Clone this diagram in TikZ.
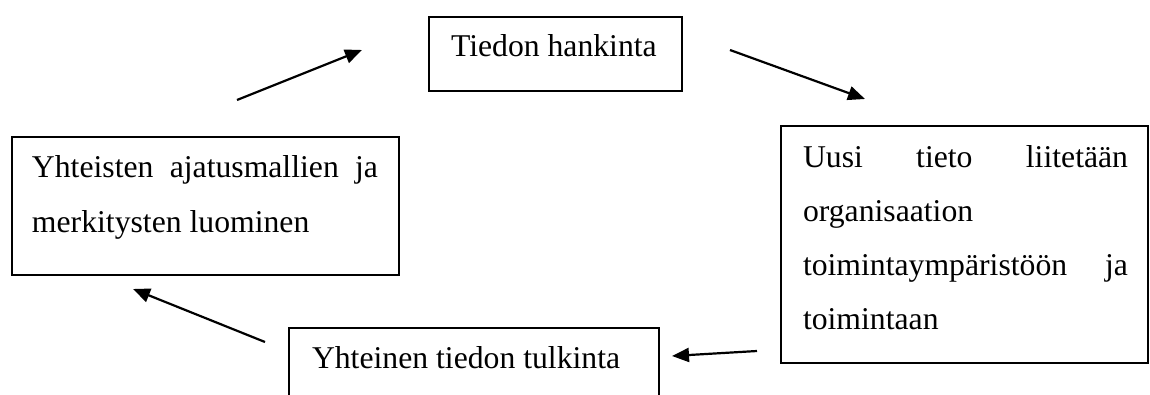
\documentclass[tikz,border=0pt]{standalone}
\usepackage{fontspec}
\setmainfont{Liberation Serif}
\usetikzlibrary{arrows.meta}
\begin{document}
\begin{tikzpicture}[x=1pt,y=-1pt,
  box/.style={draw=black, line width=1.7pt, inner sep=0pt, outer sep=0pt, anchor=north west,
              font=\fontsize{31.7pt}{54pt}\selectfont},
  flow/.style={draw=black, line width=2.2pt, -{Triangle[length=17pt,width=14pt]}}]
\useasboundingbox (0,0) rectangle (1150,395);
\clip (0,0) rectangle (1150,395);
\fill[white] (0,0) rectangle (1150,395);

% boxes
\node[box, text height=40pt, text depth=34pt] (acq) at (429,17)
  {\makebox[253pt][l]{\hspace*{22pt}Tiedon hankinta}};
\node[box, font=\fontsize{31.7pt}{55pt}\selectfont, text height=41pt, text depth=97pt] (shared) at (12,137)
  {\makebox[387pt][l]{\hspace*{20pt}\parbox[t]{346pt}{\makebox[346pt][s]{Yhteisten ajatusmallien ja}\\merkitysten luominen}}};
\node[box, text height=42pt, text depth=195pt] (newinfo) at (781,126)
  {\makebox[367pt][l]{\hspace*{22pt}\parbox[t]{325pt}{\makebox[325pt][s]{Uusi tieto liitetään}\\organisaation\\\makebox[325pt][s]{toimintaympäristöön ja}\\toimintaan}}};
\node[box, text height=40pt, text depth=100pt] (interp) at (289,328)
  {\makebox[370pt][l]{\hspace*{23pt}Yhteinen tiedon tulkinta}};

% connector end points (free-floating arrows)
\coordinate (s1) at (237,100); \coordinate (e1) at (362,50);
\coordinate (s2) at (730,50);  \coordinate (e2) at (865,99);
\coordinate (s3) at (757,351); \coordinate (e3) at (672,356);
\coordinate (s4) at (265,342); \coordinate (e4) at (133,289);

\draw[flow] (s1) -- (e1);
\draw[flow] (s2) -- (e2);
\draw[flow] (s3) -- (e3);
\draw[flow] (s4) -- (e4);
\end{tikzpicture}
\end{document}
